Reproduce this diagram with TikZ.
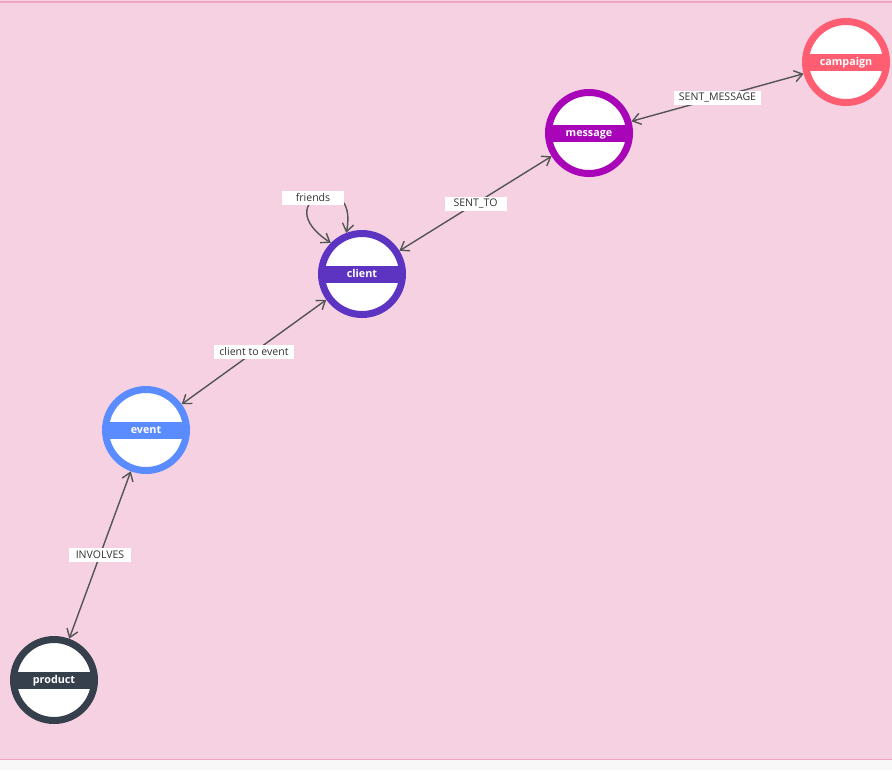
\documentclass[tikz,border=0pt]{standalone}
\usepackage{fontspec}
\setmainfont{Open Sans}
\usetikzlibrary{arrows.meta}

\definecolor{bgpink}{HTML}{F5D1E2}
\definecolor{rimpink}{HTML}{EFA6C5}
\definecolor{footgray}{HTML}{F8F8F8}
\definecolor{edgegray}{HTML}{555555}
\definecolor{lbltext}{HTML}{333333}
\definecolor{campaigncol}{HTML}{FF5E72}
\definecolor{messagecol}{HTML}{A805B8}
\definecolor{clientcol}{HTML}{5D33C2}
\definecolor{eventcol}{HTML}{5B8CFF}
\definecolor{productcol}{HTML}{36404D}

\begin{document}
\begin{tikzpicture}[x=0.03cm, y=-0.03cm,
  entity/.style={circle, draw=#1, line width=0.21cm, fill=white,
    minimum size=2.43cm, inner sep=0pt, text=white,
    text height=1.6ex, text depth=0.35ex,
    font=\bfseries\fontsize{9.2}{10}\selectfont,
    path picture={\fill[#1] ([xshift=-2cm,yshift=-0.255cm]path picture bounding box.center)
      rectangle ([xshift=2cm,yshift=0.255cm]path picture bounding box.center);}},
  rel/.style={draw=edgegray, line width=1.2pt, >={Straight Barb[length=2.4mm,width=3.4mm]}, <->},
  lbl/.style={fill=white, text=lbltext, inner xsep=0.15cm, inner ysep=1pt,
    minimum height=0.42cm, minimum width=1.86cm, font=\fontsize{9}{10}\selectfont}]

  % canvas
  \useasboundingbox (0,0) rectangle (892,770);
  \fill[bgpink] (0,0) rectangle (892,759);
  \fill[footgray] (0,759) rectangle (892,770);
  \draw[rimpink, line width=0.06cm] (0,2) -- (892,2);
  \draw[rimpink, line width=0.03cm] (0,759) -- (892,759);

  % entities
  \node[entity=campaigncol] (campaign) at (846,62) {campaign};
  \node[entity=messagecol] (message) at (589,133) {message};
  \node[entity=clientcol] (client) at (362,274) {client};
  \node[entity=eventcol] (event) at (146,430) {event};
  \node[entity=productcol] (product) at (54,680) {product};

  % relations
  \draw[rel] (message) -- node[lbl] (sentmessage) {SENT\_MESSAGE} (campaign);
  \draw[rel] (client) -- node[lbl] (sentto) {SENT\_TO} (message);
  \draw[rel] (event) -- node[lbl] (clientevent) {client to event} (client);
  \draw[rel] (product) -- node[lbl] (involves) {INVOLVES} (event);

  % self loop
  \draw[rel] (client.135) .. controls (265,200) and (360,165) .. (client.111);
  \node[lbl] (friends) at (313,198) {friends};

\end{tikzpicture}
\end{document}
